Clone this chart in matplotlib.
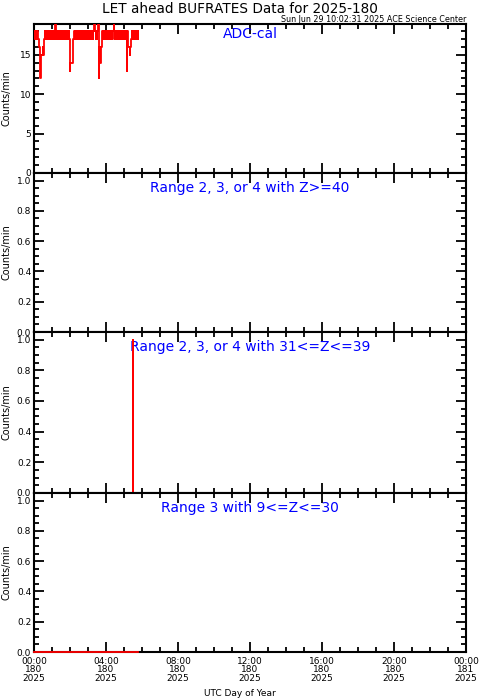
import numpy as np
import matplotlib
matplotlib.use("Agg")
import matplotlib.pyplot as plt
from matplotlib.ticker import MultipleLocator

# minutes since 2025-180 00:00, 2 minute cadence for the ADC-cal panel
adc_minutes = list(range(0, 350, 2))
adc_counts = [
    18, 17, 18, 17, 18, 17, 18, 17, 16, 16,
    15, 12, 15, 15, 15, 16, 15, 17, 18, 17,
    18, 17, 18, 17, 18, 17, 18, 17, 18, 17,
    18, 17, 18, 17, 18, 17, 19, 17, 18, 17,
    18, 17, 18, 17, 18, 17, 18, 17, 18, 17,
    18, 17, 18, 17, 18, 17, 18, 17, 18, 17,
    13, 14, 14, 14, 14, 14, 17, 18, 17, 18,
    17, 18, 17, 18, 17, 18, 17, 18, 17, 18,
    17, 18, 17, 18, 17, 18, 17, 18, 17, 18,
    17, 18, 17, 18, 17, 18, 17, 18, 17, 18,
    18, 19, 18, 17, 18, 17, 18, 19, 12, 16,
    16, 14, 16, 17, 18, 17, 18, 17, 18, 17,
    18, 17, 18, 17, 18, 17, 18, 17, 18, 17,
    18, 17, 18, 19, 18, 17, 18, 17, 18, 17,
    18, 17, 18, 17, 18, 17, 18, 17, 18, 17,
    18, 17, 18, 17, 18, 13, 18, 16, 16, 16,
    15, 16, 17, 18, 17, 18, 17, 18, 17, 18,
    17, 18, 17, 18, 17,
]

z40_minutes = [0, 348]
z40_counts = [0, 0]

z31_minutes = [0, 328, 330, 332, 348]
z31_counts = [0, 0, 1, 0, 0]

z9_minutes = [0, 348]
z9_counts = [0, 0]

panel_titles = ["ADC-cal", "Range 2, 3, or 4 with Z>=40",
                "Range 2, 3, or 4 with 31<=Z<=39", "Range 3 with 9<=Z<=30"]
xtick_hours = [0, 4, 8, 12, 16, 20, 24]
xtick_labels = ["00:00\n180\n2025", "04:00\n180\n2025", "08:00\n180\n2025",
                "12:00\n180\n2025", "16:00\n180\n2025", "20:00\n180\n2025",
                "00:00\n181\n2025"]

series = [(adc_minutes, adc_counts), (z40_minutes, z40_counts),
          (z31_minutes, z31_counts), (z9_minutes, z9_counts)]

W, H = 479, 700
fig = plt.figure(figsize=(W / 100, H / 100), dpi=100)

# panel edges in pixels (top, bottom) and label baseline below the top
edges = [(24, 173), (173, 332), (332, 493), (493, 652)]
label_drop = [14, 19, 19, 19]
left, right = 34, 466

for k, ((top, bot), (t, v)) in enumerate(zip(edges, series)):
    ax = fig.add_axes([left / W, 1 - bot / H, (right - left) / W, (bot - top) / H])
    hours = np.array(t) / 60.0
    ax.plot(hours, v, color="red", lw=1.3, drawstyle="steps-mid",
            zorder=5, clip_on=(k == 0))
    ax.set_xlim(0, 24)
    if k == 0:
        ax.set_ylim(0, 18.9)
        ax.yaxis.set_major_locator(MultipleLocator(5))
        ax.yaxis.set_minor_locator(MultipleLocator(1))
    else:
        ax.set_ylim(0, 1.05)
        ax.yaxis.set_major_locator(MultipleLocator(0.2))
        ax.yaxis.set_minor_locator(MultipleLocator(0.05))
        ax.yaxis.set_major_formatter(plt.FormatStrFormatter("%.1f"))
    ax.set_xticks(xtick_hours)
    ax.xaxis.set_minor_locator(MultipleLocator(1))
    if k == 3:
        ax.set_xticklabels(xtick_labels, fontsize=6.5, linespacing=0.92)
    else:
        ax.set_xticklabels([])
    ax.tick_params(which="both", direction="in", top=True, right=True, width=1.3)
    ax.tick_params(which="major", length=7, pad=2, labelsize=6.5)
    ax.tick_params(axis="x", which="major", pad=3.5)
    ax.tick_params(which="minor", length=3.5)
    for s in ax.spines.values():
        s.set_linewidth(1.5)
    ax.set_ylabel("Counts/min", fontsize=7)
    ax.yaxis.set_label_coords(-0.052, 0.5)
    ax.text(0.5, 1 - label_drop[k] / (bot - top), panel_titles[k],
            transform=ax.transAxes, color="blue",
            ha="center", va="baseline", fontsize=10)

fig.text(0.5, 1 - 9 / H, "LET ahead BUFRATES Data for 2025-180", ha="center",
         va="center", fontsize=9.8)
fig.text(right / W, 1 - 19 / H, "Sun Jun 29 10:02:31 2025 ACE Science Center",
         ha="right", va="center", fontsize=5.8)
fig.text(0.5, 1 - 694 / H, "UTC Day of Year", ha="center", va="center",
         fontsize=6.5)

fig.savefig("out.png", dpi=100)
